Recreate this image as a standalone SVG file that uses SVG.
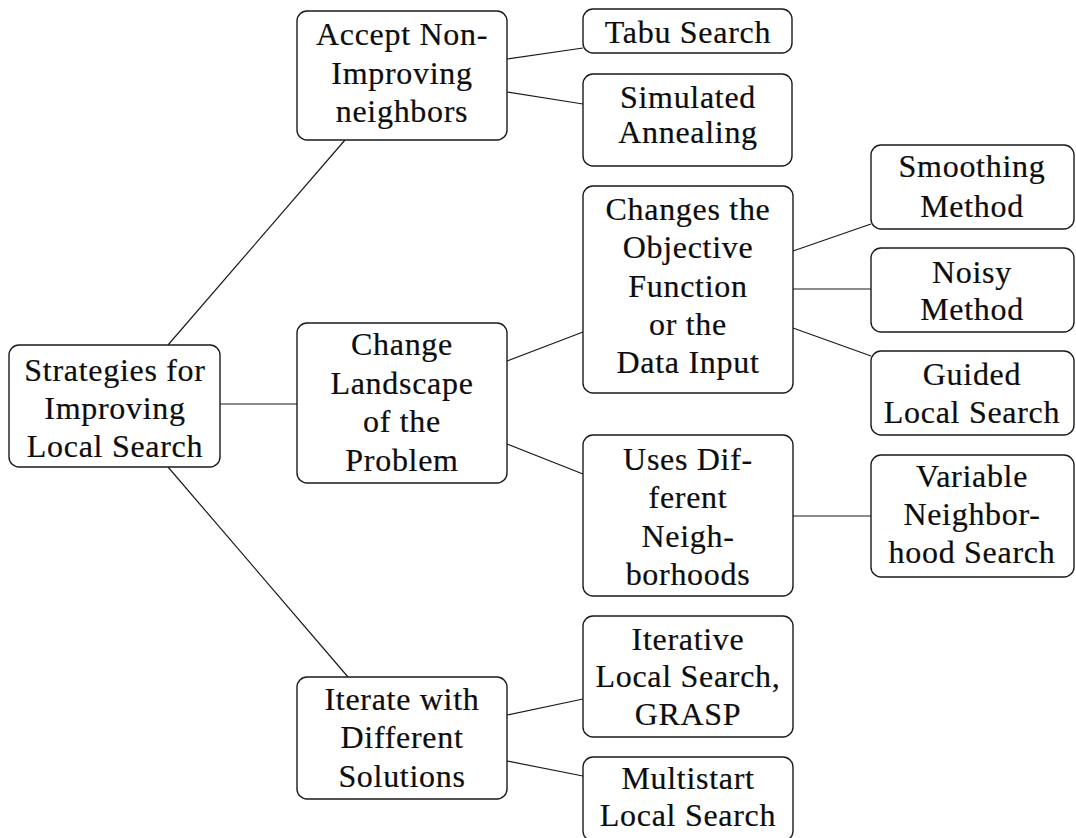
<svg xmlns="http://www.w3.org/2000/svg" width="1076" height="838" viewBox="0 0 1076 838">
  <style>
    .box { fill: #ffffff; stroke: #1a1a1a; stroke-width: 1.4; }
    .edge { stroke: #1a1a1a; stroke-width: 1.2; fill: none; }
    text { font-family: "Liberation Serif", "Times New Roman", serif; font-size: 32px; letter-spacing: 0.7px; fill: #0d0d0d; stroke: #0d0d0d; stroke-width: 0.2; text-anchor: middle; }
  </style>

  <!-- connectors -->
  <g id="connectors">
    <line class="edge" x1="168" y1="345" x2="345" y2="140"/>
    <line class="edge" x1="220" y1="404" x2="297" y2="404"/>
    <line class="edge" x1="168" y1="467" x2="348" y2="677"/>
    <line class="edge" x1="507" y1="59" x2="583" y2="48"/>
    <line class="edge" x1="507" y1="92" x2="583" y2="104"/>
    <line class="edge" x1="507" y1="361" x2="583" y2="332"/>
    <line class="edge" x1="507" y1="444" x2="583" y2="474"/>
    <line class="edge" x1="793" y1="251" x2="871" y2="224"/>
    <line class="edge" x1="793" y1="289" x2="871" y2="289"/>
    <line class="edge" x1="793" y1="328" x2="871" y2="356"/>
    <line class="edge" x1="793" y1="516" x2="871" y2="516"/>
    <line class="edge" x1="507" y1="715" x2="583" y2="699"/>
    <line class="edge" x1="507" y1="761" x2="583" y2="776"/>
  </g>

  <!-- root -->
  <g id="root">
    <rect class="box" x="9" y="345" width="211" height="122" rx="10"/>
    <text x="115" y="381">Strategies for</text>
    <text x="115" y="419">Improving</text>
    <text x="115" y="457">Local Search</text>
  </g>

  <!-- second level -->
  <g id="accept">
    <rect class="box" x="297" y="11" width="210" height="129" rx="10"/>
    <text x="402" y="45">Accept Non-</text>
    <text x="402" y="84">Improving</text>
    <text x="402" y="122">neighbors</text>
  </g>
  <g id="change">
    <rect class="box" x="297" y="323" width="210" height="160" rx="10"/>
    <text x="402" y="355">Change</text>
    <text x="402" y="394">Landscape</text>
    <text x="402" y="432">of the</text>
    <text x="402" y="471">Problem</text>
  </g>
  <g id="iterate">
    <rect class="box" x="297" y="677" width="210" height="122" rx="10"/>
    <text x="402" y="710">Iterate with</text>
    <text x="402" y="748">Different</text>
    <text x="402" y="787">Solutions</text>
  </g>

  <!-- third level -->
  <g id="tabu">
    <rect class="box" x="583" y="9" width="209" height="44" rx="10"/>
    <text x="688" y="43">Tabu Search</text>
  </g>
  <g id="annealing">
    <rect class="box" x="583" y="74" width="209" height="92" rx="10"/>
    <text x="688" y="108">Simulated</text>
    <text x="688" y="143">Annealing</text>
  </g>
  <g id="objective">
    <rect class="box" x="583" y="186" width="210" height="207" rx="10"/>
    <text x="688" y="220">Changes the</text>
    <text x="688" y="258">Objective</text>
    <text x="688" y="297">Function</text>
    <text x="688" y="335">or the</text>
    <text x="688" y="373">Data Input</text>
  </g>
  <g id="neighborhoods">
    <rect class="box" x="583" y="435" width="210" height="161" rx="10"/>
    <text x="688" y="470">Uses Dif-</text>
    <text x="688" y="508">ferent</text>
    <text x="688" y="547">Neigh-</text>
    <text x="688" y="585">borhoods</text>
  </g>
  <g id="ils">
    <rect class="box" x="583" y="616" width="210" height="121" rx="10"/>
    <text x="688" y="650">Iterative</text>
    <text x="688" y="687">Local Search,</text>
    <text x="688" y="725">GRASP</text>
  </g>
  <g id="multistart">
    <rect class="box" x="583" y="757" width="210" height="84" rx="10"/>
    <text x="688" y="789">Multistart</text>
    <text x="688" y="826">Local Search</text>
  </g>

  <!-- fourth level -->
  <g id="smoothing">
    <rect class="box" x="871" y="145" width="203" height="84" rx="10"/>
    <text x="972" y="177">Smoothing</text>
    <text x="972" y="217">Method</text>
  </g>
  <g id="noisy">
    <rect class="box" x="871" y="248" width="203" height="84" rx="10"/>
    <text x="972" y="283">Noisy</text>
    <text x="972" y="320">Method</text>
  </g>
  <g id="guided">
    <rect class="box" x="871" y="351" width="203" height="84" rx="10"/>
    <text x="972" y="385">Guided</text>
    <text x="972" y="423">Local Search</text>
  </g>
  <g id="vns">
    <rect class="box" x="871" y="455" width="203" height="122" rx="10"/>
    <text x="972" y="487">Variable</text>
    <text x="972" y="525">Neighbor-</text>
    <text x="972" y="563">hood Search</text>
  </g>
</svg>
